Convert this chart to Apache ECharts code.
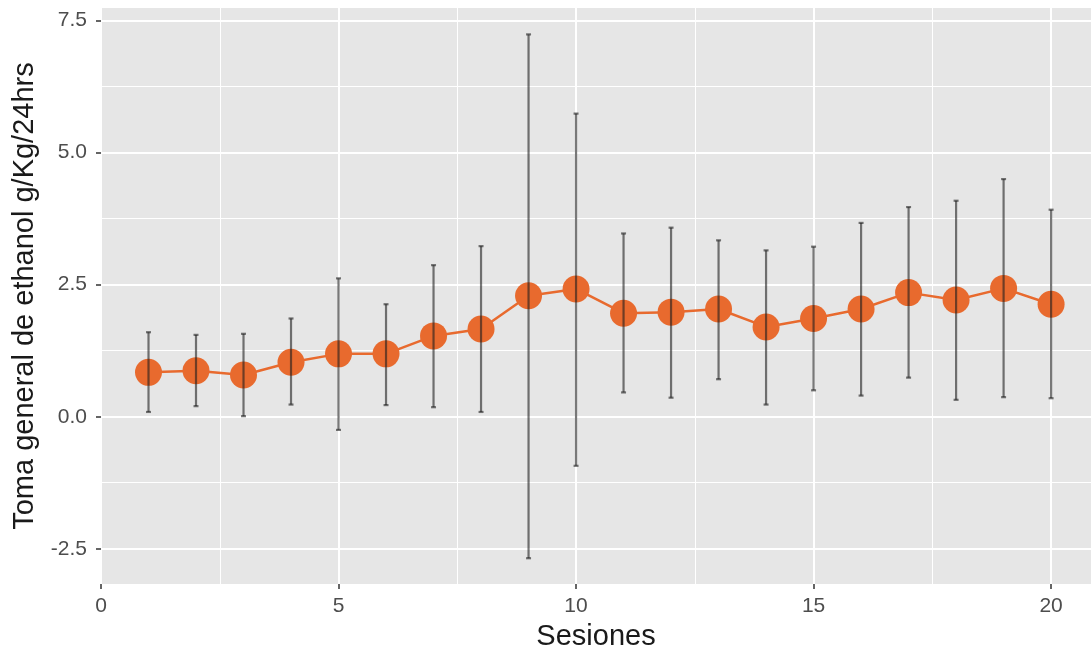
<!DOCTYPE html>
<html>
<head>
	<title>Toma general de ethanol</title>
	<meta charset="utf-8">
	<script src="https://cdn.jsdelivr.net/npm/echarts@6/dist/echarts.min.js"></script>
	<style>
		html, body { margin: 0; padding: 0; background: #ffffff; }
	</style>
</head>
<body>
	<div id="chart" style="width: 1091px;height: 656px;"></div>
<script>
	// datos
	var sessions = [1, 2, 3, 4, 5, 6, 7, 8, 9, 10, 11, 12, 13, 14, 15, 16, 17, 18, 19, 20];
	var means = [0.84, 0.87, 0.79, 1.03, 1.19, 1.19, 1.53, 1.66, 2.29, 2.42, 1.96, 1.98, 2.04, 1.70, 1.86, 2.04, 2.35, 2.21, 2.43, 2.13];
	var upper = [1.60, 1.55, 1.57, 1.86, 2.62, 2.13, 2.87, 3.23, 7.24, 5.74, 3.47, 3.58, 3.34, 3.15, 3.22, 3.67, 3.97, 4.09, 4.50, 3.92];
	var lower = [0.09, 0.20, 0.01, 0.23, -0.25, 0.22, 0.18, 0.09, -2.68, -0.93, 0.46, 0.36, 0.71, 0.23, 0.50, 0.40, 0.74, 0.32, 0.37, 0.35];

	var xTicks = [0, 5, 10, 15, 20];
	var xMinor = [2.5, 7.5, 12.5, 17.5];
	var yTicks = [-2.5, 0, 2.5, 5, 7.5];
	var yMinor = [-1.25, 1.25, 3.75, 6.25];

	var lineData = sessions.map(function (s, i) { return [s, means[i]]; });
	var barData = sessions.map(function (s, i) { return [s, lower[i], upper[i]]; });

	var orange = '#E86A2E';
	var labelStyle = { color: '#4D4D4D', fontSize: 21, fontFamily: 'Liberation Sans' };

	function drawChart() {
		var option = {
			animation: false,
			grid: {
				left: 101, right: 0, top: 8, bottom: 70,
				show: true, backgroundColor: '#E6E6E6', borderWidth: 0
			},
			xAxis: [{
				type: 'value',
				min: 0, max: 20.84,
				name: 'Sesiones',
				nameLocation: 'middle',
				nameGap: 36,
				nameTextStyle: { color: '#1a1a1a', fontSize: 29, fontFamily: 'Liberation Sans' },
				axisLine: { show: false, onZero: false },
				axisTick: { show: true, length: 5, customValues: xTicks, lineStyle: { color: '#333333', width: 1.5 } },
				axisLabel: Object.assign({ margin: 12, customValues: xTicks }, labelStyle),
				splitLine: { show: true, lineStyle: { color: '#ffffff', width: 2 } }
			}, {
				type: 'value',
				position: 'top',
				min: 0, max: 20.84,
				axisLine: { show: false, onZero: false },
				axisTick: { show: false, customValues: xMinor },
				axisLabel: { show: false, customValues: xMinor },
				splitLine: { show: true, lineStyle: { color: '#ffffff', width: 1 } }
			}],
			yAxis: [{
				type: 'value',
				min: -3.17, max: 7.74,
				name: 'Toma general de ethanol g/Kg/24hrs',
				nameLocation: 'middle',
				nameGap: 58,
				nameTextStyle: { color: '#1a1a1a', fontSize: 29, fontFamily: 'Liberation Sans' },
				axisLine: { show: false, onZero: false },
				axisTick: { show: true, length: 5, customValues: yTicks, lineStyle: { color: '#333333', width: 1.5 } },
				axisLabel: Object.assign({ margin: 14, customValues: yTicks, formatter: function (v) { return v.toFixed(1); } }, labelStyle),
				splitLine: { show: true, lineStyle: { color: '#ffffff', width: 2 } }
			}, {
				type: 'value',
				position: 'right',
				min: -3.17, max: 7.74,
				axisLine: { show: false, onZero: false },
				axisTick: { show: false, customValues: yMinor },
				axisLabel: { show: false, customValues: yMinor },
				splitLine: { show: true, lineStyle: { color: '#ffffff', width: 1 } }
			}],
			series: [{
				type: 'line',
				data: lineData,
				symbol: 'circle',
				symbolSize: 27,
				itemStyle: { color: orange },
				lineStyle: { color: orange, width: 2.5 },
				z: 2
			}, {
				type: 'custom',
				data: barData,
				encode: { x: 0, y: [1, 2] },
				z: 3,
				renderItem: function (params, api) {
					var x = api.value(0);
					var lo = api.coord([x, api.value(1)]);
					var hi = api.coord([x, api.value(2)]);
					var cap = 2.5;
					var style = { stroke: 'rgba(30,30,30,0.6)', lineWidth: 2.2 };
					return {
						type: 'group',
						children: [
							{ type: 'line', shape: { x1: hi[0], y1: hi[1], x2: lo[0], y2: lo[1] }, style: style },
							{ type: 'line', shape: { x1: hi[0] - cap, y1: hi[1], x2: hi[0] + cap, y2: hi[1] }, style: style },
							{ type: 'line', shape: { x1: lo[0] - cap, y1: lo[1], x2: lo[0] + cap, y2: lo[1] }, style: style }
						]
					};
				}
			}]
		};
		var chart = echarts.init(document.getElementById('chart'));
		chart.setOption(option);
	}
	drawChart();
</script>
</body>
</html>
